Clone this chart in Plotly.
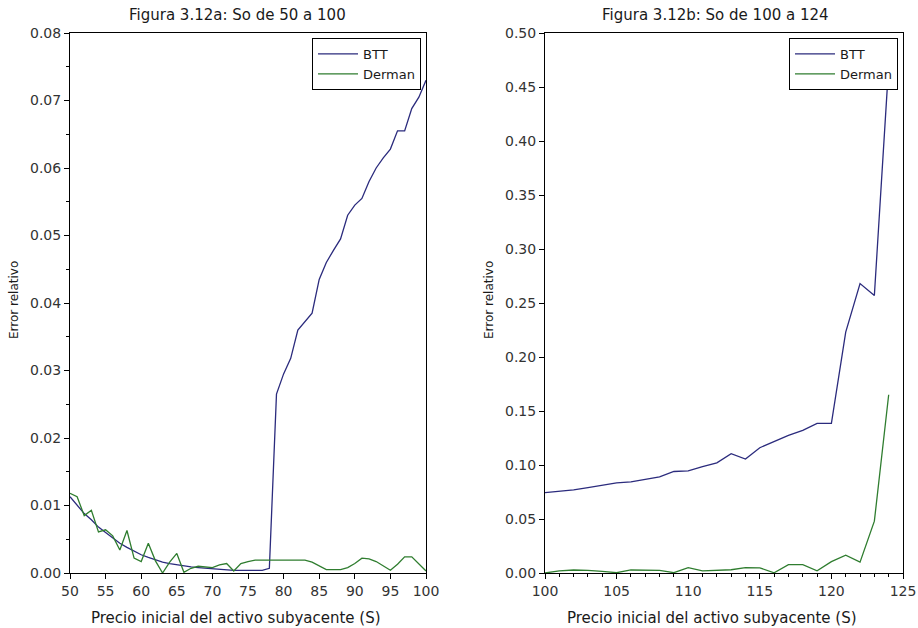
import plotly.graph_objects as go

# ---- data ----
s_left = list(range(50, 101))
btt_left = [0.0113, 0.0100, 0.0088, 0.0079, 0.0068, 0.0060, 0.0052, 0.0044, 0.0038, 0.0032,
            0.0027, 0.0023, 0.0019, 0.0016, 0.0014, 0.0012, 0.0010, 0.0009, 0.0008, 0.0007,
            0.0006, 0.0005, 0.0005, 0.0004, 0.0004, 0.0004, 0.0004, 0.0004, 0.0007, 0.0265,
            0.0295, 0.0318, 0.0360, 0.0372, 0.0385, 0.0435, 0.0460, 0.0478, 0.0495, 0.0530,
            0.0545, 0.0555, 0.0580, 0.0600, 0.0615, 0.0628, 0.0655, 0.0655, 0.0688, 0.0705,
            0.0730]
derman_left = [0.0118, 0.0113, 0.0085, 0.0093, 0.0061, 0.0064, 0.0055, 0.0034, 0.0063, 0.0022,
               0.0017, 0.0044, 0.0018, 0.0000, 0.0016, 0.0029, 0.0001, 0.0007, 0.0010, 0.0009,
               0.0008, 0.0012, 0.0014, 0.0003, 0.0014, 0.0017, 0.0019, 0.0019, 0.0019, 0.0019,
               0.0019, 0.0019, 0.0019, 0.0019, 0.0016, 0.0011, 0.0005, 0.0005, 0.0005, 0.0008,
               0.0014, 0.0022, 0.0021, 0.0017, 0.0011, 0.0004, 0.0013, 0.0024, 0.0024, 0.0013,
               0.0003]

s_right = list(range(100, 125))
btt_right = [0.0745, 0.0755, 0.0770, 0.0790, 0.0810, 0.0835, 0.0843, 0.0870, 0.0890, 0.0940,
             0.0945, 0.0985, 0.1020, 0.1105, 0.1055, 0.1160, 0.1220, 0.1275, 0.1320, 0.1385,
             0.1385, 0.2230, 0.2680, 0.2570, 0.4700]
derman_right = [0.0000, 0.0020, 0.0028, 0.0025, 0.0015, 0.0003, 0.0028, 0.0028, 0.0025, 0.0003,
                0.0050, 0.0019, 0.0022, 0.0030, 0.0050, 0.0048, 0.0002, 0.0077, 0.0077, 0.0020,
                0.0105, 0.0165, 0.0100, 0.0480, 0.1650]

title_left = "Figura 3.12a: So de 50 a 100"
title_right = "Figura 3.12b: So de 100 a 124"
xlabel = "Precio inicial del activo subyacente (S)"
ylabel = "Error relativo"

BLUE = "#2b2b7d"
GREEN = "#2f7d2f"
FONT = "DejaVu Sans, Liberation Sans, sans-serif"
TXT = "#1a1a1a"

fig = go.Figure()
fig.add_trace(go.Scatter(x=s_left, y=btt_left, mode="lines", name="BTT",
                         line=dict(color=BLUE, width=1.3), xaxis="x", yaxis="y", legend="legend"))
fig.add_trace(go.Scatter(x=s_left, y=derman_left, mode="lines", name="Derman",
                         line=dict(color=GREEN, width=1.3), xaxis="x", yaxis="y", legend="legend"))
fig.add_trace(go.Scatter(x=s_right, y=btt_right, mode="lines", name="BTT",
                         line=dict(color=BLUE, width=1.3), xaxis="x2", yaxis="y2", legend="legend2"))
fig.add_trace(go.Scatter(x=s_right, y=derman_right, mode="lines", name="Derman",
                         line=dict(color=GREEN, width=1.3), xaxis="x2", yaxis="y2", legend="legend2"))

ydom = [55 / 628, 595 / 628]
axis_common = dict(showgrid=False, zeroline=False, showline=True, linecolor="black", linewidth=1,
                   mirror=True, ticks="outside", ticklen=5, tickcolor="black", automargin=False,
                   tickfont=dict(family=FONT, size=14, color="#333333"))


def txt(text, x, y, size, angle=0):
    return dict(text=text, x=x / 918, y=(628 - y) / 628, xref="paper", yref="paper",
                xanchor="center", yanchor="middle", showarrow=False, textangle=angle,
                font=dict(family=FONT, size=size, color=TXT))


fig.update_layout(
    width=918, height=628,
    margin=dict(l=0, r=0, t=0, b=0),
    paper_bgcolor="white", plot_bgcolor="white",
    showlegend=True,
    xaxis=dict(domain=[70 / 918, 426 / 918], range=[50, 100], tick0=50, dtick=5, anchor="y",
               **axis_common),
    yaxis=dict(domain=ydom, range=[0, 0.08], dtick=0.01, tickformat=".2f", anchor="x",
               minor=dict(dtick=0.005, ticks="outside", ticklen=3, tickcolor="black"),
               **axis_common),
    xaxis2=dict(domain=[545 / 918, 903 / 918], range=[100, 125], tick0=100, dtick=5, anchor="y2",
                minor=dict(dtick=1, ticks="outside", ticklen=3, tickcolor="black"),
                **axis_common),
    yaxis2=dict(domain=ydom, range=[0, 0.5], dtick=0.05, tickformat=".2f", anchor="x2",
                **axis_common),
    legend=dict(x=421 / 918, y=(628 - 38) / 628, xanchor="right", yanchor="top",
                bgcolor="white", bordercolor="black", borderwidth=1, itemwidth=40,
                font=dict(family=FONT, size=13, color=TXT), tracegroupgap=0),
    legend2=dict(x=898 / 918, y=(628 - 38) / 628, xanchor="right", yanchor="top",
                 bgcolor="white", bordercolor="black", borderwidth=1, itemwidth=40,
                 font=dict(family=FONT, size=13, color=TXT), tracegroupgap=0),
    annotations=[
        txt(title_left, 237, 15, 15),
        txt(title_right, 715, 15, 15),
        txt(xlabel, 236, 618, 15),
        txt(xlabel, 712, 618, 15),
        txt(ylabel, 14, 300, 12, -90),
        txt(ylabel, 489, 300, 12, -90),
    ],
)

fig.write_html("out.html")
